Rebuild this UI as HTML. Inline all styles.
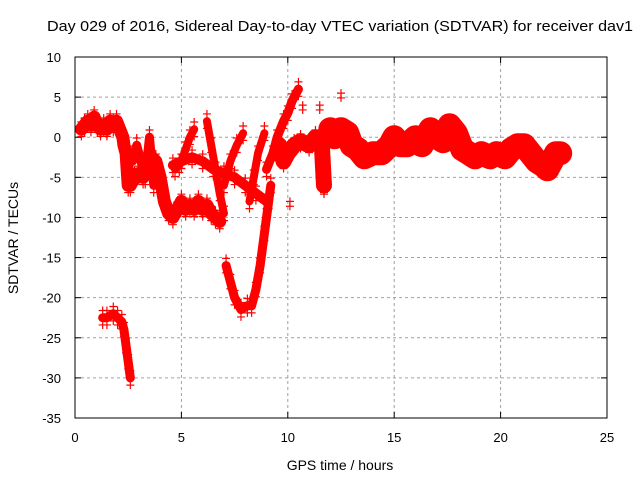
<!DOCTYPE html>
<html><head><meta charset="utf-8"><style>
body{margin:0;background:#fff}
svg{display:block;font-family:"Liberation Sans",sans-serif}
</style></head><body>
<svg id="chart" width="640" height="480">
<text x="340" y="31" font-size="15" text-anchor="middle" textLength="586" lengthAdjust="spacingAndGlyphs">Day 029 of 2016, Sidereal Day-to-day VTEC variation (SDTVAR) for receiver dav1</text>
<text x="340" y="470" font-size="14" text-anchor="middle">GPS time / hours</text>
<text x="18" y="238" font-size="14" text-anchor="middle" transform="rotate(-90 18 238)">SDTVAR / TECUs</text>
<g id="grid"></g><g id="marks"></g>
<rect x="75" y="57" width="532" height="361" fill="none" stroke="#000"/>
</svg>
<script>
const xTicks=[0,5,10,15,20,25];
const yTicks=[10,5,0,-5,-10,-15,-20,-25,-30,-35];
const track1T=[0.3,0.45,0.6,0.75,0.9,1.05,1.2,1.35,1.5,1.65,1.8,1.95,2.1,2.25,2.3,2.4,2.45,2.5,2.6,2.8,3.0,3.2,3.4,3.6,3.8,4.0,4.2,4.4,4.6,4.8,5.0,5.2,5.4,5.6,5.8,6.0,6.2,6.4,6.6,6.8];
const track1V=[1,1.5,2,1.5,2.5,1.5,1,1.5,1,2,1.5,2,1,0,-1,-2,-4,-6,-6,-5,-4.5,-5,-3,-2.5,-3,-5,-8,-9.5,-10,-9,-8,-9,-8.5,-9,-8,-9,-8.5,-9.5,-10,-10.5];
const track2T=[2.5,2.7,2.9,3.1,3.3,3.5,3.6,3.7];
const track2V=[-2,-3,-1,-3,-5,0,-3,-6];
const track3T=[4.7,4.9,5.0,5.2,5.4,5.6];
const track3V=[-4,-3.5,-3,-1.5,0,1];
const track4T=[4.6,5.0,5.5,6.0,6.5,7.0,7.5,8.0,8.5,9.0];
const track4V=[-3.5,-3,-2.5,-3,-4,-4.5,-5,-6,-7,-8];
const track5T=[6.2,6.4,6.6,6.8,7.0];
const track5V=[2,-1,-4,-7,-9.5];
const track6T=[7.0,7.3,7.6,7.9];
const track6V=[-6,-3,-1,0.5];
const track7T=[8.2,8.4,8.6,8.9];
const track7V=[-8,-5,-2,0.5];
const track8T=[7.1,7.3,7.5,7.8,8.1,8.3,8.5,8.7,8.9,9.1,9.2];
const track8V=[-16,-18,-20,-21.5,-21,-21,-19,-16,-12,-8,-6];
const track9T=[9.0,9.3,9.5,9.8,10.0,10.2,10.5];
const track9V=[-4,-2,0,2,3,4.5,6];
const track10T=[9.6,9.8,10.0,10.3,10.6,11.0,11.3,11.6,11.7];
const track10V=[-1,-3,-2,-1,-0.5,-1,0,-1,-6];
const track11T=[12.0,12.2,12.5,12.8,13.0,13.3,13.6,14.0,14.4,14.8,15.0,15.3,15.6,16.0,16.3,16.7,17.0,17.3,17.6,17.9,18.2,18.5,18.8,19.1,19.5,19.8,20.2,20.5,20.8,21.1,21.4,21.7,22.0,22.2,22.4,22.6,22.8];
const track11V=[1,0,1,0.5,-1,-1.5,-2.5,-2,-2,-1,0,-1,-1,0,-1,1,0,-0.5,1.5,0.5,-1.5,-2,-2.5,-2,-2.5,-2,-2.5,-1.5,-1,-1,-2,-3,-3.5,-4,-3,-2,-2];
const track12T=[1.3,1.5,1.8,2.0,2.2,2.3,2.4,2.5,2.6];
const track12V=[-22.5,-22.5,-22,-22.5,-23,-24,-26,-28,-30];
const isoT=[10.1,10.7,11.5,12.5,11.7];
const isoV=[-8,4,4,5.5,-6.5];
const tracks=[[track1T,track1V],[track2T,track2V],[track3T,track3V],[track4T,track4V],[track5T,track5V],[track6T,track6V],[track7T,track7V],[track8T,track8V],[track9T,track9V],[track10T,track10V],[track11T,track11V],[track12T,track12V]];
const bandWidth=[13,9,8,10,8,8,8,9,9,16,24,9];
const X=t=>75+t*(532/25), Y=v=>57+(10-v)*(361/45);
const NS="http://www.w3.org/2000/svg";
const g=document.getElementById('grid'), m=document.getElementById('marks');
function mk(tag,a,p){const e=document.createElementNS(NS,tag);for(const k in a)e.setAttribute(k,a[k]);p.appendChild(e);return e;}
xTicks.forEach(t=>{
 if(t>0&&t<25){const l=mk('line',{x1:X(t),x2:X(t),y1:57,y2:418,stroke:'#a0a0a0','stroke-dasharray':'3,3'},g);
 
 }
 mk('line',{x1:X(t),x2:X(t),y1:418,y2:412,stroke:'#000'},g);
 mk('line',{x1:X(t),x2:X(t),y1:57,y2:63,stroke:'#000'},g);
 const tx=mk('text',{x:X(t),y:442,'font-size':13,'text-anchor':'middle'},g);tx.textContent=t;
 
 
});
yTicks.forEach(v=>{
 if(v<10&&v>-35){const l=mk('line',{x1:75,x2:607,y1:Y(v),y2:Y(v),stroke:'#a0a0a0','stroke-dasharray':'3,3'},g);
 
 }
 mk('line',{x1:75,x2:81,y1:Y(v),y2:Y(v),stroke:'#000'},g);
 mk('line',{x1:601,x2:607,y1:Y(v),y2:Y(v),stroke:'#000'},g);
 const tx=mk('text',{x:61,y:Y(v)+5,'font-size':13,'text-anchor':'end'},g);tx.textContent=v;
 
 
});
function plus(t,v){
 const p=mk('path',{d:`M${X(t)-4},${Y(v)}h8M${X(t)},${Y(v)-4}v8`,stroke:'#f00','stroke-width':1.2,fill:'none'},m);
 
 
}
tracks.forEach(([T,V],k)=>{
 const pl=mk('polyline',{points:T.map((t,i)=>X(t)+','+Y(V[i])).join(' '),stroke:'#f00','stroke-width':bandWidth[k],fill:'none','stroke-linejoin':'round','stroke-linecap':'round'},m);
 
 
 T.forEach((t,i)=>{plus(t,V[i]+0.9);plus(t,V[i]-0.9);});
});
isoT.forEach((t,i)=>{plus(t,isoV[i]);plus(t,isoV[i]-0.6);});
</script>
</body></html>
